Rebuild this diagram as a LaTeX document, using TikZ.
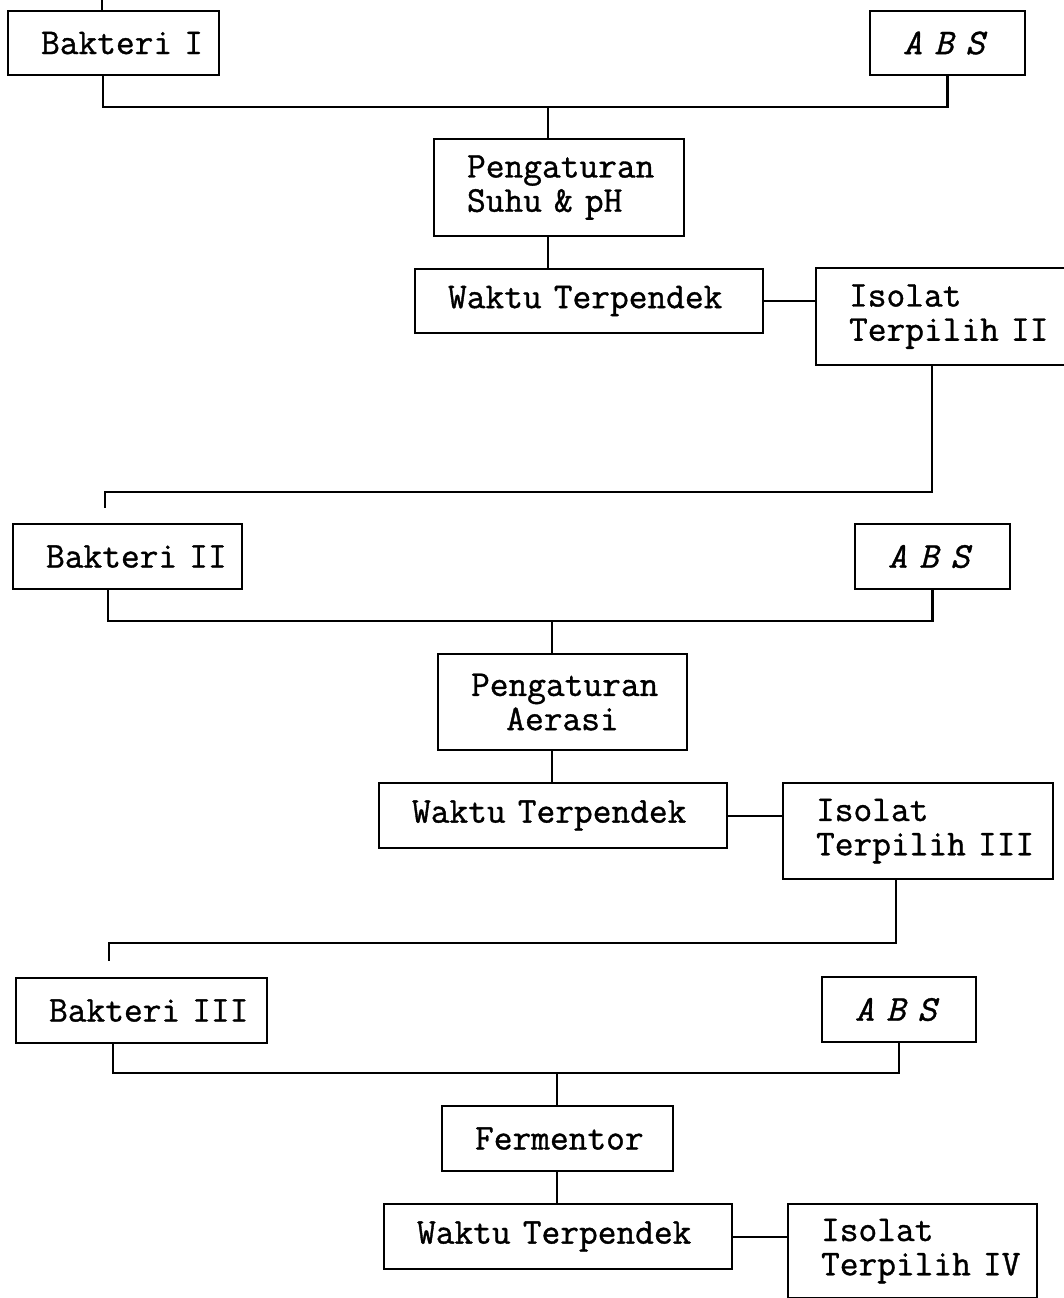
\documentclass[tikz,border=0pt]{standalone}
\usepackage{fontspec}
\setmonofont[FakeBold=1]{Latin Modern Mono}
\usetikzlibrary{positioning, calc}

\begin{document}
\begin{tikzpicture}[
  x=0.02cm, y=-0.02cm,
  box/.style 2 args={rectangle, draw, line width=1.2pt, anchor=north west,
              inner xsep=0.66cm, inner ysep=0pt, text width=#1,
              minimum height=#2, align=left,
              font=\ttfamily\fontsize{20.7}{19.5}\selectfont},
  line/.style={line width=1.2pt}
]
\useasboundingbox (0,0) rectangle (1063,1298);

%% Stage 1
\node[box={2.90cm}{1.28cm}] (bak1) at (7,10) {Bakteri~I};
\node[box={1.78cm}{1.28cm}] (abs1) at (869,10) {\itshape A~B~S};
\node[box={3.68cm}{1.94cm}] (peng1) at (433,138) {Pengaturan\\Suhu~\&~pH};
\node[box={5.64cm}{1.28cm}] (wak1) at (414,268) {Waktu~Terpendek};
\node[box={3.74cm}{1.94cm}] (iso1) at (815,267) {Isolat\\Terpilih~II};

\coordinate (top1) at (102,-5);
\coordinate (bus1) at (548,107);
\coordinate (ret1) at (105,492);
\draw[line] (top1) -- (top1 |- bak1.north);
\draw[line] ([xshift=-0.21cm]bak1.south) |- (bus1) -| (abs1.south);
\draw[line] (bus1) -- (bus1 |- peng1.north);
\draw[line] (bus1 |- peng1.south) -- (bus1 |- wak1.north);
\draw[line] (wak1.east) -- (wak1.east -| iso1.west);
\draw[line] ([xshift=2.34cm]iso1.south west) |- (ret1) -- ++(0,16);

%% Stage 2
\node[box={3.26cm}{1.30cm}] (bak2) at (12,523) {Bakteri~II};
\node[box={1.78cm}{1.30cm}] (abs2) at (854,523) {\itshape A~B~S};
\node[box={3.66cm}{1.92cm}, align=center] (peng2) at (437,653) {Pengaturan\\Aerasi};
\node[box={5.64cm}{1.30cm}] (wak2) at (378,782) {Waktu~Terpendek};
\node[box={4.08cm}{1.92cm}] (iso2) at (782,782) {Isolat\\Terpilih~III};

\coordinate (bus2) at (552,621);
\coordinate (ret2) at (109,943);
\draw[line] ([xshift=-0.39cm]bak2.south) |- (bus2) -| (abs2.south);
\draw[line] (bus2) -- (bus2 |- peng2.north);
\draw[line] (bus2 |- peng2.south) -- (bus2 |- wak2.north);
\draw[line] (wak2.east) -- (wak2.east -| iso2.west);
\draw[line] ([xshift=2.28cm]iso2.south west) |- (ret2) -- ++(0,18);

%% Stage 3
\node[box={3.70cm}{1.30cm}] (bak3) at (15,977) {Bakteri~III};
\node[box={1.76cm}{1.30cm}] (abs3) at (821,976) {\itshape A~B~S};
\node[box={3.30cm}{1.30cm}] (ferm) at (441,1105) {Fermentor};
\node[box={5.64cm}{1.30cm}] (wak3) at (383,1203) {Waktu~Terpendek};
\node[box={3.66cm}{1.88cm}] (iso3) at (787,1203) {Isolat\\Terpilih~IV};

\coordinate (bus3) at (557,1073);
\draw[line] ([xshift=-0.57cm]bak3.south) |- (bus3) -| (abs3.south);
\draw[line] (bus3) -- (bus3 |- ferm.north);
\draw[line] (bus3 |- ferm.south) -- (bus3 |- wak3.north);
\draw[line] (wak3.east) -- (wak3.east -| iso3.west);
\end{tikzpicture}
\end{document}
